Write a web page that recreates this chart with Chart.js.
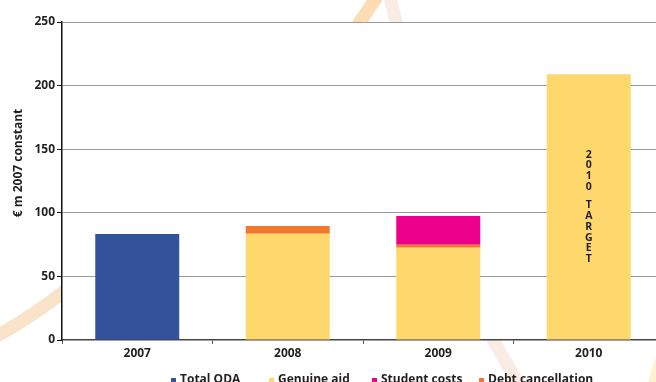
<!DOCTYPE html>
<html>
<head>
<meta charset="utf-8">
<script src="https://cdn.jsdelivr.net/npm/chart.js@4/dist/chart.umd.min.js"></script>
<style>
  html, body { margin: 0; padding: 0; background: #fff; }
  #wrap { width: 656px; height: 382px; overflow: hidden; position: relative; }
  #odaChart { display: block; }
</style>
</head>
<body>
<div id="wrap"><canvas id="odaChart" width="668" height="382"></canvas></div>
<script>
const years = ["2007", "2008", "2009", "2010"];
const totalOda = [83.3, null, null, null];
const genuineAid = [null, 83.6, 72.6, 209];
const debtCancellation = [null, 6, 2.3, null];
const studentCosts = [null, null, 22.6, null];
const yTicks = [0, 50, 100, 150, 200, 250];
const legendOrder = ["Total ODA", "Genuine aid", "Student costs", "Debt cancellation"];
const yTitle = "€ m 2007 constant";
const targetText = "2010 TARGET";

const FONT = "'Open Sans', 'DejaVu Sans', sans-serif";

// faint watermark strokes behind the plot, then a white plot area on top
const backdrop = {
    id: "backdrop",
    beforeDraw(chart) {
        const c = chart.ctx, a = chart.chartArea;
        c.save();
        c.fillStyle = "#fff";
        c.fillRect(0, 0, chart.width, chart.height);
        c.lineCap = "butt";
        c.lineWidth = 13;
        c.strokeStyle = "#f9e3c9";
        c.beginPath();
        c.moveTo(-5, 337);
        c.quadraticCurveTo(30, 318, 66, 290);
        c.stroke();
        c.strokeStyle = "#fcdcb4";
        c.beginPath();
        c.moveTo(357, 26);
        c.lineTo(377, -3);
        c.stroke();
        c.strokeStyle = "#f8ece4";
        c.beginPath();
        c.moveTo(390, -3);
        c.lineTo(397, 26);
        c.stroke();
        c.beginPath();
        c.moveTo(492, 338);
        c.lineTo(522, 390);
        c.stroke();
        c.strokeStyle = "#fdf1cf";
        c.lineWidth = 8;
        c.beginPath();
        c.moveTo(662, 350);
        c.lineTo(650, 390);
        c.stroke();
        c.fillStyle = "#fff";
        c.fillRect(a.left, a.top, a.right - a.left, a.bottom - a.top);
        c.restore();
    },
    afterDraw(chart) {
        const c = chart.ctx;
        c.save();
        // y axis title
        c.translate(19, 163);
        c.rotate(-Math.PI / 2);
        c.font = "bold 12px " + FONT;
        c.fillStyle = "#231f20";
        c.textAlign = "center";
        c.textBaseline = "middle";
        c.fillText(yTitle, 0, 0);
        c.restore();

        // legend
        const starts = [171, 269, 372, 479];
        c.save();
        c.font = "bold 12px " + FONT;
        c.textBaseline = "alphabetic";
        legendOrder.forEach((name, i) => {
            const ds = chart.data.datasets.find(d => d.label === name);
            c.fillStyle = ds.backgroundColor;
            c.fillRect(starts[i], 378, 5, 5);
            c.fillStyle = "#231f20";
            c.fillText(name, starts[i] + 9, 383);
        });
        c.restore();
    },
    afterDatasetsDraw(chart) {
        const el = chart.getDatasetMeta(1).data[3];
        if (!el) return;
        const c = chart.ctx;
        const step = 10.7, gap = 8;
        let h = 0;
        for (const ch of targetText) h += ch === " " ? gap : step;
        let y = (el.y + el.base) / 2 - h / 2 + step / 2;
        c.save();
        c.font = "bold 10.5px " + FONT;
        c.fillStyle = "#231f20";
        c.textAlign = "center";
        c.textBaseline = "middle";
        for (const ch of targetText) {
            if (ch === " ") { y += gap; continue; }
            c.fillText(ch, el.x, y);
            y += step;
        }
        c.restore();
    }
};

new Chart(document.getElementById("odaChart"), {
    type: "bar",
    data: {
        labels: years,
        datasets: [
            { label: "Total ODA", data: totalOda, backgroundColor: "#34519b" },
            { label: "Genuine aid", data: genuineAid, backgroundColor: "#fed86d" },
            { label: "Debt cancellation", data: debtCancellation, backgroundColor: "#ef7a2e" },
            { label: "Student costs", data: studentCosts, backgroundColor: "#ec008c" }
        ]
    },
    options: {
        responsive: false,
        animation: false,
        categoryPercentage: 1,
        barPercentage: 0.558,
        layout: { padding: { top: 22, right: 4, left: 0, bottom: 0 } },
        plugins: {
            legend: { display: false },
            tooltip: { enabled: false }
        },
        scales: {
            x: {
                stacked: true,
                border: { color: "#444", width: 1.5 },
                grid: { drawOnChartArea: false, tickLength: 4, color: "#555" },
                ticks: { color: "#231f20", font: { family: FONT, weight: "bold", size: 12 }, padding: 2 },
                afterFit(scale) { scale.height = 42; }
            },
            y: {
                stacked: true,
                min: 0,
                max: 250,
                afterBuildTicks(scale) { scale.ticks = yTicks.map(v => ({ value: v })); },
                border: { color: "#111", width: 1.5 },
                grid: {
                    color: ctx => ctx.tick && ctx.tick.value === 0 ? "rgba(0,0,0,0)" : "#9a9a9a",
                    borderDash: [1, 1],
                    tickLength: 5,
                    tickColor: "#111",
                    tickBorderDash: [],
                    lineWidth: 1
                },
                ticks: { color: "#231f20", font: { family: FONT, weight: "bold", size: 12 }, padding: 2 },
                afterFit(scale) { scale.width = 62; }
            }
        }
    },
    plugins: [backdrop]
});
</script>
</body>
</html>
